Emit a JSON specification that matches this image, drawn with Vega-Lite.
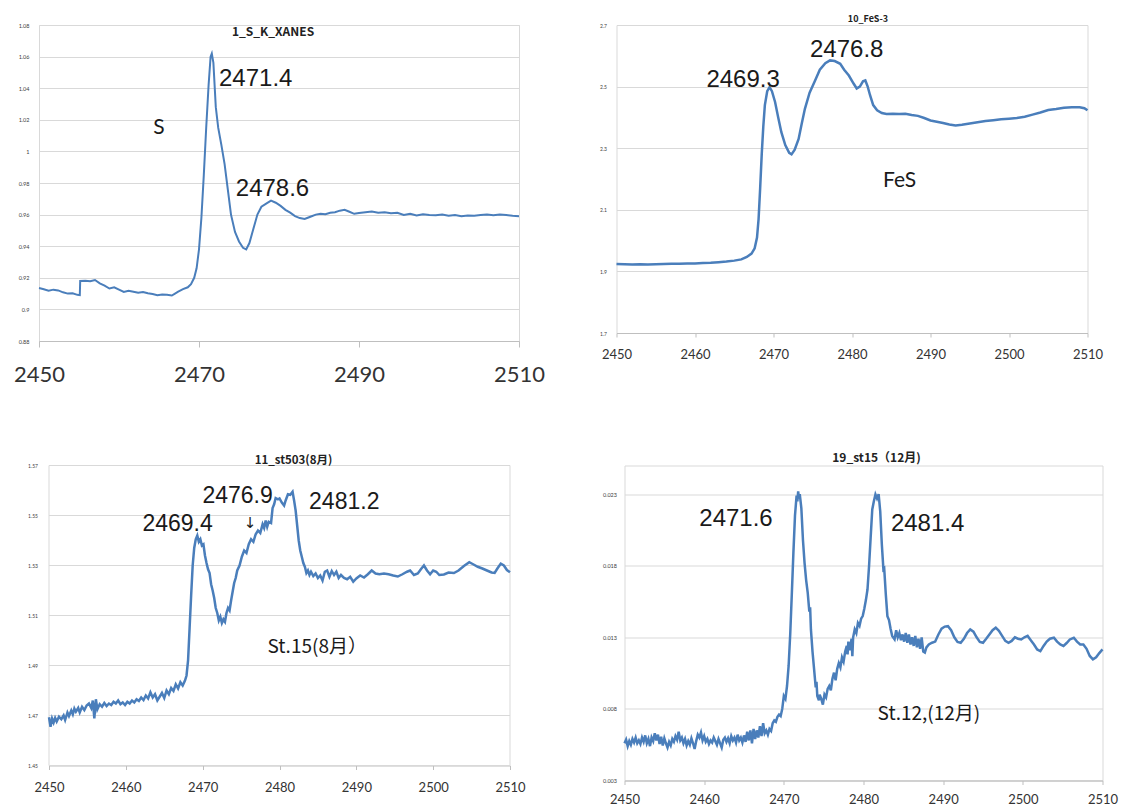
{
  "$schema": "https://vega.github.io/schema/vega-lite/v6.json",
  "background": "white",
  "padding": {"left": 12, "top": 14, "right": 5, "bottom": 0},
  "config": {
    "font": "Lato",
    "view": {"stroke": "#d9d9d9", "strokeWidth": 1},
    "axis": {"gridColor": "#d9d9d9", "gridWidth": 1, "domainColor": "#bfbfbf", "tickColor": "#bfbfbf", "labelColor": "#404040", "labelFont": "Lato", "tickCount": 20},
    "axisY": {"domain": false, "ticks": false, "labelOverlap": false},
    "axisX": {"format": "d", "labelOverlap": false},
    "title": {"font": "Noto Sans CJK JP", "fontWeight": "bold", "fontSize": 10, "color": "#222222", "frame": "group", "anchor": "middle"},
    "text": {"font": "Liberation Sans", "color": "#1a1a1a"}
  },
  "datasets": {
    "s": [
      {"energy": 2450.0, "absorbance": 0.9135}, {"energy": 2450.6, "absorbance": 0.9128}, {"energy": 2451.2, "absorbance": 0.9118}, {"energy": 2451.8, "absorbance": 0.9125}, {"energy": 2452.4, "absorbance": 0.9120}, {"energy": 2453.0, "absorbance": 0.9108}, {"energy": 2453.6, "absorbance": 0.9100}, {"energy": 2454.2, "absorbance": 0.9102}, {"energy": 2454.8, "absorbance": 0.9092}, {"energy": 2455.1, "absorbance": 0.9090}, {"energy": 2455.15, "absorbance": 0.9180}, {"energy": 2455.8, "absorbance": 0.9182}, {"energy": 2456.4, "absorbance": 0.9178}, {"energy": 2457.0, "absorbance": 0.9186}, {"energy": 2457.6, "absorbance": 0.9165}, {"energy": 2458.2, "absorbance": 0.9150}, {"energy": 2458.8, "absorbance": 0.9132}, {"energy": 2459.4, "absorbance": 0.9140}, {"energy": 2460.0, "absorbance": 0.9125}, {"energy": 2460.6, "absorbance": 0.9110}, {"energy": 2461.2, "absorbance": 0.9118}, {"energy": 2461.8, "absorbance": 0.9112}, {"energy": 2462.4, "absorbance": 0.9105}, {"energy": 2463.0, "absorbance": 0.9110}, {"energy": 2463.6, "absorbance": 0.9102}, {"energy": 2464.2, "absorbance": 0.9098}, {"energy": 2464.8, "absorbance": 0.9090}, {"energy": 2465.4, "absorbance": 0.9095}, {"energy": 2466.0, "absorbance": 0.9092}, {"energy": 2466.6, "absorbance": 0.9088}, {"energy": 2467.0, "absorbance": 0.9100}, {"energy": 2467.4, "absorbance": 0.9112}, {"energy": 2468.0, "absorbance": 0.9128}, {"energy": 2468.6, "absorbance": 0.9140}, {"energy": 2469.0, "absorbance": 0.9160}, {"energy": 2469.4, "absorbance": 0.9200}, {"energy": 2469.7, "absorbance": 0.9260}, {"energy": 2470.0, "absorbance": 0.9380}, {"energy": 2470.3, "absorbance": 0.9580}, {"energy": 2470.6, "absorbance": 0.9850}, {"energy": 2470.9, "absorbance": 1.0150}, {"energy": 2471.2, "absorbance": 1.0420}, {"energy": 2471.45, "absorbance": 1.0600}, {"energy": 2471.6, "absorbance": 1.0620}, {"energy": 2471.8, "absorbance": 1.0560}, {"energy": 2472.1, "absorbance": 1.0280}, {"energy": 2472.4, "absorbance": 1.0150}, {"energy": 2472.8, "absorbance": 1.0040}, {"energy": 2473.2, "absorbance": 0.9920}, {"energy": 2473.6, "absorbance": 0.9760}, {"energy": 2474.0, "absorbance": 0.9600}, {"energy": 2474.5, "absorbance": 0.9490}, {"energy": 2475.0, "absorbance": 0.9430}, {"energy": 2475.5, "absorbance": 0.9390}, {"energy": 2475.9, "absorbance": 0.9380}, {"energy": 2476.3, "absorbance": 0.9420}, {"energy": 2476.8, "absorbance": 0.9510}, {"energy": 2477.3, "absorbance": 0.9600}, {"energy": 2477.8, "absorbance": 0.9650}, {"energy": 2478.4, "absorbance": 0.9670}, {"energy": 2479.0, "absorbance": 0.9688}, {"energy": 2479.6, "absorbance": 0.9675}, {"energy": 2480.2, "absorbance": 0.9655}, {"energy": 2480.8, "absorbance": 0.9630}, {"energy": 2481.4, "absorbance": 0.9612}, {"energy": 2482.0, "absorbance": 0.9590}, {"energy": 2482.6, "absorbance": 0.9578}, {"energy": 2483.2, "absorbance": 0.9572}, {"energy": 2483.6, "absorbance": 0.9580}, {"energy": 2484.0, "absorbance": 0.9588}, {"energy": 2484.6, "absorbance": 0.9600}, {"energy": 2485.2, "absorbance": 0.9605}, {"energy": 2485.8, "absorbance": 0.9602}, {"energy": 2486.4, "absorbance": 0.9612}, {"energy": 2487.0, "absorbance": 0.9615}, {"energy": 2487.6, "absorbance": 0.9625}, {"energy": 2488.2, "absorbance": 0.9630}, {"energy": 2488.8, "absorbance": 0.9618}, {"energy": 2489.4, "absorbance": 0.9605}, {"energy": 2490.0, "absorbance": 0.9610}, {"energy": 2490.8, "absorbance": 0.9615}, {"energy": 2491.6, "absorbance": 0.9620}, {"energy": 2492.4, "absorbance": 0.9612}, {"energy": 2493.2, "absorbance": 0.9615}, {"energy": 2494.0, "absorbance": 0.9608}, {"energy": 2494.8, "absorbance": 0.9612}, {"energy": 2495.6, "absorbance": 0.9598}, {"energy": 2496.4, "absorbance": 0.9605}, {"energy": 2497.2, "absorbance": 0.9595}, {"energy": 2498.0, "absorbance": 0.9602}, {"energy": 2498.8, "absorbance": 0.9598}, {"energy": 2499.6, "absorbance": 0.9596}, {"energy": 2500.4, "absorbance": 0.9600}, {"energy": 2501.2, "absorbance": 0.9593}, {"energy": 2502.0, "absorbance": 0.9597}, {"energy": 2502.8, "absorbance": 0.9590}, {"energy": 2503.6, "absorbance": 0.9595}, {"energy": 2504.4, "absorbance": 0.9592}, {"energy": 2505.2, "absorbance": 0.9598}, {"energy": 2506.0, "absorbance": 0.9600}, {"energy": 2506.8, "absorbance": 0.9596}, {"energy": 2507.6, "absorbance": 0.9600}, {"energy": 2508.4, "absorbance": 0.9598}, {"energy": 2509.2, "absorbance": 0.9592}, {"energy": 2510.0, "absorbance": 0.9590}
    ],
    "fes": [
      {"energy": 2450.0, "absorbance": 1.924}, {"energy": 2451.0, "absorbance": 1.923}, {"energy": 2452.0, "absorbance": 1.922}, {"energy": 2453.0, "absorbance": 1.923}, {"energy": 2454.0, "absorbance": 1.922}, {"energy": 2455.0, "absorbance": 1.923}, {"energy": 2456.0, "absorbance": 1.924}, {"energy": 2457.0, "absorbance": 1.925}, {"energy": 2458.0, "absorbance": 1.925}, {"energy": 2459.0, "absorbance": 1.926}, {"energy": 2460.0, "absorbance": 1.926}, {"energy": 2461.0, "absorbance": 1.927}, {"energy": 2462.0, "absorbance": 1.928}, {"energy": 2463.0, "absorbance": 1.930}, {"energy": 2464.0, "absorbance": 1.932}, {"energy": 2465.0, "absorbance": 1.935}, {"energy": 2465.9, "absorbance": 1.939}, {"energy": 2466.6, "absorbance": 1.947}, {"energy": 2467.2, "absorbance": 1.958}, {"energy": 2467.6, "absorbance": 1.975}, {"energy": 2467.9, "absorbance": 2.010}, {"energy": 2468.1, "absorbance": 2.070}, {"energy": 2468.3, "absorbance": 2.170}, {"energy": 2468.5, "absorbance": 2.280}, {"energy": 2468.7, "absorbance": 2.370}, {"energy": 2468.9, "absorbance": 2.440}, {"energy": 2469.2, "absorbance": 2.485}, {"energy": 2469.5, "absorbance": 2.498}, {"energy": 2469.8, "absorbance": 2.485}, {"energy": 2470.2, "absorbance": 2.450}, {"energy": 2470.6, "absorbance": 2.400}, {"energy": 2471.0, "absorbance": 2.352}, {"energy": 2471.5, "absorbance": 2.310}, {"energy": 2472.0, "absorbance": 2.285}, {"energy": 2472.3, "absorbance": 2.280}, {"energy": 2472.7, "absorbance": 2.295}, {"energy": 2473.2, "absorbance": 2.330}, {"energy": 2473.6, "absorbance": 2.380}, {"energy": 2474.0, "absorbance": 2.428}, {"energy": 2474.6, "absorbance": 2.480}, {"energy": 2475.3, "absorbance": 2.520}, {"energy": 2475.9, "absorbance": 2.555}, {"energy": 2476.6, "absorbance": 2.576}, {"energy": 2477.2, "absorbance": 2.585}, {"energy": 2477.8, "absorbance": 2.583}, {"energy": 2478.5, "absorbance": 2.574}, {"energy": 2479.0, "absorbance": 2.555}, {"energy": 2479.6, "absorbance": 2.536}, {"energy": 2480.2, "absorbance": 2.510}, {"energy": 2480.6, "absorbance": 2.494}, {"energy": 2481.0, "absorbance": 2.500}, {"energy": 2481.4, "absorbance": 2.517}, {"energy": 2481.7, "absorbance": 2.520}, {"energy": 2482.0, "absorbance": 2.500}, {"energy": 2482.3, "absorbance": 2.472}, {"energy": 2482.7, "absorbance": 2.440}, {"energy": 2483.2, "absorbance": 2.423}, {"energy": 2483.8, "absorbance": 2.414}, {"energy": 2484.4, "absorbance": 2.411}, {"energy": 2485.2, "absorbance": 2.412}, {"energy": 2486.0, "absorbance": 2.411}, {"energy": 2486.8, "absorbance": 2.412}, {"energy": 2487.6, "absorbance": 2.408}, {"energy": 2488.4, "absorbance": 2.405}, {"energy": 2489.2, "absorbance": 2.398}, {"energy": 2490.0, "absorbance": 2.390}, {"energy": 2490.8, "absorbance": 2.386}, {"energy": 2491.6, "absorbance": 2.382}, {"energy": 2492.4, "absorbance": 2.377}, {"energy": 2493.2, "absorbance": 2.374}, {"energy": 2494.0, "absorbance": 2.376}, {"energy": 2495.0, "absorbance": 2.380}, {"energy": 2496.0, "absorbance": 2.384}, {"energy": 2497.0, "absorbance": 2.388}, {"energy": 2498.0, "absorbance": 2.391}, {"energy": 2499.0, "absorbance": 2.394}, {"energy": 2500.0, "absorbance": 2.396}, {"energy": 2501.0, "absorbance": 2.398}, {"energy": 2502.0, "absorbance": 2.402}, {"energy": 2503.0, "absorbance": 2.409}, {"energy": 2504.0, "absorbance": 2.416}, {"energy": 2505.0, "absorbance": 2.424}, {"energy": 2506.0, "absorbance": 2.427}, {"energy": 2507.0, "absorbance": 2.431}, {"energy": 2508.0, "absorbance": 2.433}, {"energy": 2509.0, "absorbance": 2.433}, {"energy": 2509.6, "absorbance": 2.430}, {"energy": 2510.0, "absorbance": 2.423}
    ],
    "st503": [
      {"energy": 2450.0, "absorbance": 1.4693}, {"energy": 2450.2, "absorbance": 1.4655}, {"energy": 2450.4, "absorbance": 1.4688}, {"energy": 2450.6, "absorbance": 1.4672}, {"energy": 2450.8, "absorbance": 1.4690}, {"energy": 2451.0, "absorbance": 1.4676}, {"energy": 2451.3, "absorbance": 1.4695}, {"energy": 2451.6, "absorbance": 1.4685}, {"energy": 2451.9, "absorbance": 1.4700}, {"energy": 2452.1, "absorbance": 1.4682}, {"energy": 2452.4, "absorbance": 1.4712}, {"energy": 2452.6, "absorbance": 1.4698}, {"energy": 2452.9, "absorbance": 1.4720}, {"energy": 2453.1, "absorbance": 1.4705}, {"energy": 2453.3, "absorbance": 1.4728}, {"energy": 2453.5, "absorbance": 1.4715}, {"energy": 2453.8, "absorbance": 1.4730}, {"energy": 2454.0, "absorbance": 1.4712}, {"energy": 2454.3, "absorbance": 1.4735}, {"energy": 2454.6, "absorbance": 1.4722}, {"energy": 2454.9, "absorbance": 1.4740}, {"energy": 2455.2, "absorbance": 1.4748}, {"energy": 2455.5, "absorbance": 1.4730}, {"energy": 2455.7, "absorbance": 1.4760}, {"energy": 2455.9, "absorbance": 1.4688}, {"energy": 2456.1, "absorbance": 1.4765}, {"energy": 2456.3, "absorbance": 1.4725}, {"energy": 2456.6, "absorbance": 1.4745}, {"energy": 2456.9, "absorbance": 1.4735}, {"energy": 2457.2, "absorbance": 1.4750}, {"energy": 2457.5, "absorbance": 1.4738}, {"energy": 2457.8, "absorbance": 1.4748}, {"energy": 2458.1, "absorbance": 1.4742}, {"energy": 2458.4, "absorbance": 1.4755}, {"energy": 2458.7, "absorbance": 1.4748}, {"energy": 2459.0, "absorbance": 1.4760}, {"energy": 2459.3, "absorbance": 1.4745}, {"energy": 2459.6, "absorbance": 1.4752}, {"energy": 2459.9, "absorbance": 1.4742}, {"energy": 2460.2, "absorbance": 1.4755}, {"energy": 2460.5, "absorbance": 1.4748}, {"energy": 2460.8, "absorbance": 1.4760}, {"energy": 2461.1, "absorbance": 1.4752}, {"energy": 2461.4, "absorbance": 1.4765}, {"energy": 2461.7, "absorbance": 1.4758}, {"energy": 2462.0, "absorbance": 1.4772}, {"energy": 2462.3, "absorbance": 1.4762}, {"energy": 2462.6, "absorbance": 1.4780}, {"energy": 2462.9, "absorbance": 1.4768}, {"energy": 2463.2, "absorbance": 1.4793}, {"energy": 2463.5, "absorbance": 1.4772}, {"energy": 2463.8, "absorbance": 1.4785}, {"energy": 2464.1, "absorbance": 1.4760}, {"energy": 2464.4, "absorbance": 1.4775}, {"energy": 2464.7, "absorbance": 1.4790}, {"energy": 2465.0, "absorbance": 1.4770}, {"energy": 2465.3, "absorbance": 1.4800}, {"energy": 2465.6, "absorbance": 1.4785}, {"energy": 2465.9, "absorbance": 1.4810}, {"energy": 2466.2, "absorbance": 1.4798}, {"energy": 2466.5, "absorbance": 1.4825}, {"energy": 2466.8, "absorbance": 1.4808}, {"energy": 2467.1, "absorbance": 1.4833}, {"energy": 2467.4, "absorbance": 1.4820}, {"energy": 2467.7, "absorbance": 1.4840}, {"energy": 2467.9, "absorbance": 1.4860}, {"energy": 2468.1, "absorbance": 1.4920}, {"energy": 2468.3, "absorbance": 1.5050}, {"energy": 2468.5, "absorbance": 1.5180}, {"energy": 2468.7, "absorbance": 1.5300}, {"energy": 2468.9, "absorbance": 1.5370}, {"energy": 2469.1, "absorbance": 1.5405}, {"energy": 2469.3, "absorbance": 1.5420}, {"energy": 2469.5, "absorbance": 1.5395}, {"energy": 2469.7, "absorbance": 1.5405}, {"energy": 2469.9, "absorbance": 1.5380}, {"energy": 2470.1, "absorbance": 1.5385}, {"energy": 2470.3, "absorbance": 1.5340}, {"energy": 2470.5, "absorbance": 1.5310}, {"energy": 2470.7, "absorbance": 1.5285}, {"energy": 2470.9, "absorbance": 1.5270}, {"energy": 2471.1, "absorbance": 1.5225}, {"energy": 2471.3, "absorbance": 1.5200}, {"energy": 2471.5, "absorbance": 1.5170}, {"energy": 2471.7, "absorbance": 1.5130}, {"energy": 2471.9, "absorbance": 1.5110}, {"energy": 2472.1, "absorbance": 1.5080}, {"energy": 2472.3, "absorbance": 1.5095}, {"energy": 2472.5, "absorbance": 1.5070}, {"energy": 2472.7, "absorbance": 1.5085}, {"energy": 2472.9, "absorbance": 1.5075}, {"energy": 2473.1, "absorbance": 1.5110}, {"energy": 2473.3, "absorbance": 1.5130}, {"energy": 2473.5, "absorbance": 1.5120}, {"energy": 2473.7, "absorbance": 1.5160}, {"energy": 2473.9, "absorbance": 1.5195}, {"energy": 2474.1, "absorbance": 1.5230}, {"energy": 2474.3, "absorbance": 1.5250}, {"energy": 2474.5, "absorbance": 1.5280}, {"energy": 2474.8, "absorbance": 1.5300}, {"energy": 2475.1, "absorbance": 1.5335}, {"energy": 2475.4, "absorbance": 1.5360}, {"energy": 2475.7, "absorbance": 1.5350}, {"energy": 2476.0, "absorbance": 1.5385}, {"energy": 2476.3, "absorbance": 1.5405}, {"energy": 2476.6, "absorbance": 1.5395}, {"energy": 2476.9, "absorbance": 1.5425}, {"energy": 2477.2, "absorbance": 1.5440}, {"energy": 2477.5, "absorbance": 1.5430}, {"energy": 2477.8, "absorbance": 1.5465}, {"energy": 2478.0, "absorbance": 1.5450}, {"energy": 2478.2, "absorbance": 1.5480}, {"energy": 2478.4, "absorbance": 1.5455}, {"energy": 2478.6, "absorbance": 1.5475}, {"energy": 2478.9, "absorbance": 1.5470}, {"energy": 2479.1, "absorbance": 1.5530}, {"energy": 2479.3, "absorbance": 1.5545}, {"energy": 2479.5, "absorbance": 1.5570}, {"energy": 2479.8, "absorbance": 1.5565}, {"energy": 2480.0, "absorbance": 1.5568}, {"energy": 2480.3, "absorbance": 1.5552}, {"energy": 2480.6, "absorbance": 1.5540}, {"energy": 2480.8, "absorbance": 1.5560}, {"energy": 2481.1, "absorbance": 1.5585}, {"energy": 2481.4, "absorbance": 1.5583}, {"energy": 2481.7, "absorbance": 1.5595}, {"energy": 2481.9, "absorbance": 1.5560}, {"energy": 2482.1, "absorbance": 1.5520}, {"energy": 2482.3, "absorbance": 1.5460}, {"energy": 2482.5, "absorbance": 1.5400}, {"energy": 2482.7, "absorbance": 1.5360}, {"energy": 2482.9, "absorbance": 1.5335}, {"energy": 2483.1, "absorbance": 1.5310}, {"energy": 2483.3, "absorbance": 1.5295}, {"energy": 2483.5, "absorbance": 1.5270}, {"energy": 2483.7, "absorbance": 1.5280}, {"energy": 2483.9, "absorbance": 1.5262}, {"energy": 2484.1, "absorbance": 1.5275}, {"energy": 2484.4, "absorbance": 1.5258}, {"energy": 2484.7, "absorbance": 1.5268}, {"energy": 2485.0, "absorbance": 1.5250}, {"energy": 2485.3, "absorbance": 1.5260}, {"energy": 2485.6, "absorbance": 1.5240}, {"energy": 2485.9, "absorbance": 1.5275}, {"energy": 2486.2, "absorbance": 1.5280}, {"energy": 2486.5, "absorbance": 1.5255}, {"energy": 2486.8, "absorbance": 1.5278}, {"energy": 2487.1, "absorbance": 1.5262}, {"energy": 2487.4, "absorbance": 1.5275}, {"energy": 2487.7, "absorbance": 1.5250}, {"energy": 2488.0, "absorbance": 1.5262}, {"energy": 2488.4, "absorbance": 1.5250}, {"energy": 2488.8, "absorbance": 1.5245}, {"energy": 2489.2, "absorbance": 1.5255}, {"energy": 2489.6, "absorbance": 1.5235}, {"energy": 2490.0, "absorbance": 1.5248}, {"energy": 2490.5, "absorbance": 1.5260}, {"energy": 2491.0, "absorbance": 1.5252}, {"energy": 2491.5, "absorbance": 1.5265}, {"energy": 2492.0, "absorbance": 1.5280}, {"energy": 2492.5, "absorbance": 1.5268}, {"energy": 2493.0, "absorbance": 1.5265}, {"energy": 2493.6, "absorbance": 1.5268}, {"energy": 2494.2, "absorbance": 1.5265}, {"energy": 2494.8, "absorbance": 1.5260}, {"energy": 2495.4, "absorbance": 1.5256}, {"energy": 2496.0, "absorbance": 1.5265}, {"energy": 2496.6, "absorbance": 1.5275}, {"energy": 2497.0, "absorbance": 1.5280}, {"energy": 2497.5, "absorbance": 1.5262}, {"energy": 2498.0, "absorbance": 1.5268}, {"energy": 2498.4, "absorbance": 1.5285}, {"energy": 2498.8, "absorbance": 1.5300}, {"energy": 2499.2, "absorbance": 1.5280}, {"energy": 2499.6, "absorbance": 1.5265}, {"energy": 2500.0, "absorbance": 1.5280}, {"energy": 2500.4, "absorbance": 1.5275}, {"energy": 2500.8, "absorbance": 1.5262}, {"energy": 2501.4, "absorbance": 1.5264}, {"energy": 2502.0, "absorbance": 1.5272}, {"energy": 2502.7, "absorbance": 1.5270}, {"energy": 2503.3, "absorbance": 1.5280}, {"energy": 2504.0, "absorbance": 1.5298}, {"energy": 2504.7, "absorbance": 1.5313}, {"energy": 2505.2, "absorbance": 1.5305}, {"energy": 2505.8, "absorbance": 1.5295}, {"energy": 2506.4, "absorbance": 1.5288}, {"energy": 2507.0, "absorbance": 1.5280}, {"energy": 2507.6, "absorbance": 1.5272}, {"energy": 2508.0, "absorbance": 1.5270}, {"energy": 2508.4, "absorbance": 1.5290}, {"energy": 2508.8, "absorbance": 1.5307}, {"energy": 2509.2, "absorbance": 1.5300}, {"energy": 2509.6, "absorbance": 1.5282}, {"energy": 2510.0, "absorbance": 1.5273}
    ],
    "st503grid": [
      {"level": 1.45}, {"level": 1.47}, {"level": 1.49}, {"level": 1.51}, {"level": 1.53}, {"level": 1.55}, {"level": 1.57}
    ],
    "st15": [
      {"energy": 2450.0, "absorbance": 0.00560}, {"energy": 2450.2, "absorbance": 0.00585}, {"energy": 2450.4, "absorbance": 0.00540}, {"energy": 2450.6, "absorbance": 0.00575}, {"energy": 2450.8, "absorbance": 0.00550}, {"energy": 2451.0, "absorbance": 0.00590}, {"energy": 2451.2, "absorbance": 0.00565}, {"energy": 2451.4, "absorbance": 0.00600}, {"energy": 2451.6, "absorbance": 0.00560}, {"energy": 2451.8, "absorbance": 0.00580}, {"energy": 2452.0, "absorbance": 0.00555}, {"energy": 2452.2, "absorbance": 0.00600}, {"energy": 2452.4, "absorbance": 0.00570}, {"energy": 2452.6, "absorbance": 0.00615}, {"energy": 2452.8, "absorbance": 0.00560}, {"energy": 2453.0, "absorbance": 0.00590}, {"energy": 2453.2, "absorbance": 0.00540}, {"energy": 2453.4, "absorbance": 0.00600}, {"energy": 2453.6, "absorbance": 0.00575}, {"energy": 2453.8, "absorbance": 0.00630}, {"energy": 2454.0, "absorbance": 0.00580}, {"energy": 2454.2, "absorbance": 0.00620}, {"energy": 2454.4, "absorbance": 0.00555}, {"energy": 2454.6, "absorbance": 0.00605}, {"energy": 2454.8, "absorbance": 0.00545}, {"energy": 2455.0, "absorbance": 0.00595}, {"energy": 2455.2, "absorbance": 0.00560}, {"energy": 2455.4, "absorbance": 0.00530}, {"energy": 2455.6, "absorbance": 0.00570}, {"energy": 2455.8, "absorbance": 0.00545}, {"energy": 2456.0, "absorbance": 0.00590}, {"energy": 2456.2, "absorbance": 0.00570}, {"energy": 2456.4, "absorbance": 0.00610}, {"energy": 2456.6, "absorbance": 0.00585}, {"energy": 2456.8, "absorbance": 0.00640}, {"energy": 2457.0, "absorbance": 0.00580}, {"energy": 2457.2, "absorbance": 0.00600}, {"energy": 2457.4, "absorbance": 0.00560}, {"energy": 2457.6, "absorbance": 0.00590}, {"energy": 2457.8, "absorbance": 0.00545}, {"energy": 2458.0, "absorbance": 0.00575}, {"energy": 2458.2, "absorbance": 0.00550}, {"energy": 2458.4, "absorbance": 0.00595}, {"energy": 2458.6, "absorbance": 0.00560}, {"energy": 2458.8, "absorbance": 0.00520}, {"energy": 2459.0, "absorbance": 0.00575}, {"energy": 2459.2, "absorbance": 0.00620}, {"energy": 2459.4, "absorbance": 0.00600}, {"energy": 2459.6, "absorbance": 0.00635}, {"energy": 2459.8, "absorbance": 0.00580}, {"energy": 2460.0, "absorbance": 0.00610}, {"energy": 2460.2, "absorbance": 0.00570}, {"energy": 2460.4, "absorbance": 0.00590}, {"energy": 2460.6, "absorbance": 0.00555}, {"energy": 2460.8, "absorbance": 0.00580}, {"energy": 2461.0, "absorbance": 0.00565}, {"energy": 2461.2, "absorbance": 0.00600}, {"energy": 2461.4, "absorbance": 0.00575}, {"energy": 2461.6, "absorbance": 0.00550}, {"energy": 2461.8, "absorbance": 0.00590}, {"energy": 2462.0, "absorbance": 0.00560}, {"energy": 2462.2, "absorbance": 0.00530}, {"energy": 2462.4, "absorbance": 0.00585}, {"energy": 2462.6, "absorbance": 0.00600}, {"energy": 2462.8, "absorbance": 0.00570}, {"energy": 2463.0, "absorbance": 0.00595}, {"energy": 2463.2, "absorbance": 0.00560}, {"energy": 2463.4, "absorbance": 0.00610}, {"energy": 2463.6, "absorbance": 0.00580}, {"energy": 2463.8, "absorbance": 0.00600}, {"energy": 2464.0, "absorbance": 0.00565}, {"energy": 2464.2, "absorbance": 0.00620}, {"energy": 2464.4, "absorbance": 0.00580}, {"energy": 2464.6, "absorbance": 0.00600}, {"energy": 2464.8, "absorbance": 0.00565}, {"energy": 2465.0, "absorbance": 0.00615}, {"energy": 2465.2, "absorbance": 0.00570}, {"energy": 2465.4, "absorbance": 0.00640}, {"energy": 2465.6, "absorbance": 0.00580}, {"energy": 2465.8, "absorbance": 0.00650}, {"energy": 2466.0, "absorbance": 0.00560}, {"energy": 2466.2, "absorbance": 0.00660}, {"energy": 2466.4, "absorbance": 0.00590}, {"energy": 2466.6, "absorbance": 0.00650}, {"energy": 2466.8, "absorbance": 0.00600}, {"energy": 2467.0, "absorbance": 0.00680}, {"energy": 2467.2, "absorbance": 0.00610}, {"energy": 2467.4, "absorbance": 0.00700}, {"energy": 2467.6, "absorbance": 0.00630}, {"energy": 2467.8, "absorbance": 0.00650}, {"energy": 2468.0, "absorbance": 0.00620}, {"energy": 2468.2, "absorbance": 0.00660}, {"energy": 2468.4, "absorbance": 0.00646}, {"energy": 2468.6, "absorbance": 0.00700}, {"energy": 2468.8, "absorbance": 0.00720}, {"energy": 2469.0, "absorbance": 0.00710}, {"energy": 2469.2, "absorbance": 0.00745}, {"energy": 2469.4, "absorbance": 0.00760}, {"energy": 2469.6, "absorbance": 0.00750}, {"energy": 2469.8, "absorbance": 0.00800}, {"energy": 2470.0, "absorbance": 0.00890}, {"energy": 2470.2, "absorbance": 0.00870}, {"energy": 2470.4, "absorbance": 0.00960}, {"energy": 2470.6, "absorbance": 0.01100}, {"energy": 2470.8, "absorbance": 0.01320}, {"energy": 2471.0, "absorbance": 0.01600}, {"energy": 2471.2, "absorbance": 0.01890}, {"energy": 2471.4, "absorbance": 0.02150}, {"energy": 2471.6, "absorbance": 0.02290}, {"energy": 2471.7, "absorbance": 0.02250}, {"energy": 2471.8, "absorbance": 0.02320}, {"energy": 2471.9, "absorbance": 0.02270}, {"energy": 2472.0, "absorbance": 0.02300}, {"energy": 2472.2, "absorbance": 0.02200}, {"energy": 2472.4, "absorbance": 0.01980}, {"energy": 2472.6, "absorbance": 0.01820}, {"energy": 2472.8, "absorbance": 0.01700}, {"energy": 2473.0, "absorbance": 0.01611}, {"energy": 2473.2, "absorbance": 0.01480}, {"energy": 2473.3, "absorbance": 0.01510}, {"energy": 2473.4, "absorbance": 0.01355}, {"energy": 2473.6, "absorbance": 0.01200}, {"energy": 2473.8, "absorbance": 0.01076}, {"energy": 2474.0, "absorbance": 0.00950}, {"energy": 2474.1, "absorbance": 0.00990}, {"energy": 2474.2, "absorbance": 0.00890}, {"energy": 2474.4, "absorbance": 0.00860}, {"energy": 2474.5, "absorbance": 0.00900}, {"energy": 2474.7, "absorbance": 0.00870}, {"energy": 2474.9, "absorbance": 0.00830}, {"energy": 2475.1, "absorbance": 0.00900}, {"energy": 2475.3, "absorbance": 0.00880}, {"energy": 2475.5, "absorbance": 0.00940}, {"energy": 2475.7, "absorbance": 0.00960}, {"energy": 2475.9, "absorbance": 0.00930}, {"energy": 2476.1, "absorbance": 0.01010}, {"energy": 2476.3, "absorbance": 0.01053}, {"energy": 2476.5, "absorbance": 0.01000}, {"energy": 2476.7, "absorbance": 0.01080}, {"energy": 2476.9, "absorbance": 0.01120}, {"energy": 2477.1, "absorbance": 0.01090}, {"energy": 2477.3, "absorbance": 0.01160}, {"energy": 2477.5, "absorbance": 0.01130}, {"energy": 2477.7, "absorbance": 0.01200}, {"energy": 2477.9, "absorbance": 0.01240}, {"energy": 2478.0, "absorbance": 0.01180}, {"energy": 2478.1, "absorbance": 0.01270}, {"energy": 2478.3, "absorbance": 0.01210}, {"energy": 2478.5, "absorbance": 0.01290}, {"energy": 2478.6, "absorbance": 0.01169}, {"energy": 2478.7, "absorbance": 0.01300}, {"energy": 2478.9, "absorbance": 0.01355}, {"energy": 2479.1, "absorbance": 0.01330}, {"energy": 2479.3, "absorbance": 0.01400}, {"energy": 2479.5, "absorbance": 0.01380}, {"energy": 2479.7, "absorbance": 0.01430}, {"energy": 2479.9, "absorbance": 0.01448}, {"energy": 2480.1, "absorbance": 0.01500}, {"energy": 2480.3, "absorbance": 0.01560}, {"energy": 2480.5, "absorbance": 0.01634}, {"energy": 2480.7, "absorbance": 0.01800}, {"energy": 2480.9, "absorbance": 0.02000}, {"energy": 2481.1, "absorbance": 0.02193}, {"energy": 2481.3, "absorbance": 0.02250}, {"energy": 2481.5, "absorbance": 0.02298}, {"energy": 2481.7, "absorbance": 0.02270}, {"energy": 2481.9, "absorbance": 0.02300}, {"energy": 2482.1, "absorbance": 0.02180}, {"energy": 2482.3, "absorbance": 0.01950}, {"energy": 2482.5, "absorbance": 0.01774}, {"energy": 2482.6, "absorbance": 0.01780}, {"energy": 2482.8, "absorbance": 0.01600}, {"energy": 2483.0, "absorbance": 0.01448}, {"energy": 2483.2, "absorbance": 0.01420}, {"energy": 2483.4, "absorbance": 0.01360}, {"energy": 2483.6, "absorbance": 0.01310}, {"energy": 2483.9, "absorbance": 0.01286}, {"energy": 2484.1, "absorbance": 0.01350}, {"energy": 2484.3, "absorbance": 0.01300}, {"energy": 2484.5, "absorbance": 0.01330}, {"energy": 2484.7, "absorbance": 0.01280}, {"energy": 2484.9, "absorbance": 0.01320}, {"energy": 2485.1, "absorbance": 0.01270}, {"energy": 2485.3, "absorbance": 0.01330}, {"energy": 2485.5, "absorbance": 0.01262}, {"energy": 2485.7, "absorbance": 0.01320}, {"energy": 2485.9, "absorbance": 0.01250}, {"energy": 2486.1, "absorbance": 0.01300}, {"energy": 2486.3, "absorbance": 0.01240}, {"energy": 2486.5, "absorbance": 0.01310}, {"energy": 2486.7, "absorbance": 0.01230}, {"energy": 2486.9, "absorbance": 0.01290}, {"energy": 2487.1, "absorbance": 0.01220}, {"energy": 2487.3, "absorbance": 0.01300}, {"energy": 2487.5, "absorbance": 0.01200}, {"energy": 2487.7, "absorbance": 0.01193}, {"energy": 2487.9, "absorbance": 0.01230}, {"energy": 2488.2, "absorbance": 0.01250}, {"energy": 2488.6, "absorbance": 0.01262}, {"energy": 2489.0, "absorbance": 0.01270}, {"energy": 2489.4, "absorbance": 0.01320}, {"energy": 2489.8, "absorbance": 0.01360}, {"energy": 2490.2, "absorbance": 0.01375}, {"energy": 2490.6, "absorbance": 0.01378}, {"energy": 2491.0, "absorbance": 0.01350}, {"energy": 2491.4, "absorbance": 0.01300}, {"energy": 2491.8, "absorbance": 0.01268}, {"energy": 2492.2, "absorbance": 0.01262}, {"energy": 2492.6, "absorbance": 0.01290}, {"energy": 2493.0, "absorbance": 0.01330}, {"energy": 2493.4, "absorbance": 0.01355}, {"energy": 2493.8, "absorbance": 0.01340}, {"energy": 2494.2, "absorbance": 0.01300}, {"energy": 2494.6, "absorbance": 0.01268}, {"energy": 2495.0, "absorbance": 0.01262}, {"energy": 2495.4, "absorbance": 0.01290}, {"energy": 2495.8, "absorbance": 0.01320}, {"energy": 2496.2, "absorbance": 0.01350}, {"energy": 2496.6, "absorbance": 0.01367}, {"energy": 2497.0, "absorbance": 0.01345}, {"energy": 2497.4, "absorbance": 0.01310}, {"energy": 2497.8, "absorbance": 0.01275}, {"energy": 2498.2, "absorbance": 0.01262}, {"energy": 2498.6, "absorbance": 0.01275}, {"energy": 2499.0, "absorbance": 0.01300}, {"energy": 2499.4, "absorbance": 0.01290}, {"energy": 2499.8, "absorbance": 0.01285}, {"energy": 2500.2, "absorbance": 0.01300}, {"energy": 2500.6, "absorbance": 0.01310}, {"energy": 2501.0, "absorbance": 0.01280}, {"energy": 2501.4, "absorbance": 0.01250}, {"energy": 2501.8, "absorbance": 0.01215}, {"energy": 2502.2, "absorbance": 0.01204}, {"energy": 2502.6, "absorbance": 0.01240}, {"energy": 2503.0, "absorbance": 0.01270}, {"energy": 2503.4, "absorbance": 0.01290}, {"energy": 2503.9, "absorbance": 0.01297}, {"energy": 2504.3, "absorbance": 0.01270}, {"energy": 2504.7, "absorbance": 0.01250}, {"energy": 2505.1, "absorbance": 0.01240}, {"energy": 2505.5, "absorbance": 0.01260}, {"energy": 2505.9, "absorbance": 0.01285}, {"energy": 2506.4, "absorbance": 0.01297}, {"energy": 2506.8, "absorbance": 0.01270}, {"energy": 2507.2, "absorbance": 0.01250}, {"energy": 2507.6, "absorbance": 0.01250}, {"energy": 2508.0, "absorbance": 0.01220}, {"energy": 2508.4, "absorbance": 0.01170}, {"energy": 2508.8, "absorbance": 0.01146}, {"energy": 2509.2, "absorbance": 0.01160}, {"energy": 2509.6, "absorbance": 0.01190}, {"energy": 2510.0, "absorbance": 0.01216}
    ]
  },
  "columns": 1,
  "spacing": 64.5,
  "concat": [
    {
      "bounds": "flush",
      "spacing": 97.5,
      "hconcat": [
        {
          "width": 480,
          "height": 316,
          "title": {"text": "1_S_K_XANES", "offset": -16, "dx": -6, "fontSize": 12},
          "layer": [
            {
              "data": {"name": "s"},
              "mark": {"type": "line", "color": "#4a7ebb", "strokeWidth": 2},
              "encoding": {
                "x": {"field": "energy", "type": "quantitative", "title": null, "scale": {"domain": [2450, 2510], "nice": false, "zero": false},
                      "axis": {"values": [2450, 2470, 2490, 2510], "labelFontSize": 22, "labelColor": "#333333", "tickSize": 6, "labelPadding": 17, "grid": false, "labelFlush": false}},
                "y": {"field": "absorbance", "type": "quantitative", "title": null, "scale": {"domain": [0.88, 1.08], "nice": false, "zero": false},
                      "axis": {"values": [0.88, 0.9, 0.92, 0.94, 0.96, 0.98, 1, 1.02, 1.04, 1.06, 1.08], "tickCount": 20, "format": ".2~f", "labelFontSize": 5.5, "labelPadding": 10}}
              }
            },
            {"data": {"values": [{}]}, "mark": {"type": "text", "text": "2471.4", "fontSize": 24, "align": "left", "baseline": "middle"},
             "encoding": {"x": {"datum": 2472.5, "type": "quantitative"}, "y": {"datum": 1.0458, "type": "quantitative"}}},
            {"data": {"values": [{}]}, "mark": {"type": "text", "text": "2478.6", "fontSize": 24, "align": "left", "baseline": "middle"},
             "encoding": {"x": {"datum": 2474.6, "type": "quantitative"}, "y": {"datum": 0.9762, "type": "quantitative"}}},
            {"data": {"values": [{}]}, "mark": {"type": "text", "text": "S", "font": "Lato", "fontSize": 21, "align": "center", "baseline": "middle"},
             "encoding": {"x": {"datum": 2465.0, "type": "quantitative"}, "y": {"datum": 1.0148, "type": "quantitative"}}}
          ]
        },
        {
          "width": 471,
          "height": 308,
          "title": {"text": "10_FeS-3", "offset": -1, "dx": 16, "fontSize": 9},
          "layer": [
            {
              "data": {"name": "fes"},
              "mark": {"type": "line", "color": "#4a7ebb", "strokeWidth": 2.5},
              "encoding": {
                "x": {"field": "energy", "type": "quantitative", "title": null, "scale": {"domain": [2450, 2510], "nice": false, "zero": false},
                      "axis": {"values": [2450, 2460, 2470, 2480, 2490, 2500, 2510], "labelFontSize": 13, "labelColor": "#333333", "tickSize": 4, "labelPadding": 11, "grid": false, "labelFlush": false}},
                "y": {"field": "absorbance", "type": "quantitative", "title": null, "scale": {"domain": [1.7, 2.7], "nice": false, "zero": false},
                      "axis": {"values": [1.7, 1.9, 2.1, 2.3, 2.5, 2.7], "tickCount": 20, "format": ".1f", "labelFontSize": 5, "labelPadding": 10}}
              }
            },
            {"data": {"values": [{}]}, "mark": {"type": "text", "text": "2469.3", "fontSize": 24, "align": "left", "baseline": "middle"},
             "encoding": {"x": {"datum": 2461.45, "type": "quantitative"}, "y": {"datum": 2.521, "type": "quantitative"}}},
            {"data": {"values": [{}]}, "mark": {"type": "text", "text": "2476.8", "fontSize": 24, "align": "left", "baseline": "middle"},
             "encoding": {"x": {"datum": 2474.65, "type": "quantitative"}, "y": {"datum": 2.618, "type": "quantitative"}}},
            {"data": {"values": [{}]}, "mark": {"type": "text", "text": "FeS", "font": "Lato", "fontSize": 21, "align": "center", "baseline": "middle"},
             "encoding": {"x": {"datum": 2486.06, "type": "quantitative"}, "y": {"datum": 2.195, "type": "quantitative"}}}
          ]
        }
      ]
    },
    {
      "bounds": "flush",
      "spacing": 114.5,
      "hconcat": [
        {
          "width": 471,
          "height": 300,
          "view": {"stroke": null},
          "title": {"text": "11_st503(8月)", "offset": -3, "dx": 19, "fontSize": 11.5},
          "layer": [
            {"data": {"name": "st503grid"}, "mark": {"type": "rule", "color": "#d9d9d9", "strokeWidth": 1},
             "encoding": {"y": {"field": "level", "type": "quantitative"}, "x": {"datum": 2450, "type": "quantitative"}, "x2": {"datum": 2510}}},
            {"data": {"values": [{}]}, "mark": {"type": "rule", "color": "#d9d9d9", "strokeWidth": 1},
             "encoding": {"x": {"datum": 2450, "type": "quantitative"}, "y": {"datum": 1.45, "type": "quantitative"}, "y2": {"datum": 1.57}}},
            {"data": {"values": [{}]}, "mark": {"type": "rule", "color": "#d9d9d9", "strokeWidth": 1},
             "encoding": {"x": {"datum": 2510, "type": "quantitative"}, "y": {"datum": 1.45, "type": "quantitative"}, "y2": {"datum": 1.57}}},
            {
              "data": {"name": "st503"},
              "mark": {"type": "line", "color": "#4a7ebb", "strokeWidth": 2.5},
              "encoding": {
                "x": {"field": "energy", "type": "quantitative", "title": null, "scale": {"domain": [2450, 2510], "range": [10, 471], "nice": false, "zero": false},
                      "axis": {"values": [2450, 2460, 2470, 2480, 2490, 2500, 2510], "labelFontSize": 13, "labelColor": "#333333", "tickSize": 4, "labelPadding": 12, "grid": false, "labelFlush": false}},
                "y": {"field": "absorbance", "type": "quantitative", "title": null, "scale": {"domain": [1.45, 1.57], "nice": false, "zero": false},
                      "axis": {"values": [1.45, 1.47, 1.49, 1.51, 1.53, 1.55, 1.57], "tickCount": 20, "format": ".2f", "labelFontSize": 5, "labelPadding": 1.5, "grid": false}}
              }
            },
            {"data": {"values": [{}]}, "mark": {"type": "text", "text": "2469.4", "fontSize": 23, "align": "left", "baseline": "middle"},
             "encoding": {"x": {"datum": 2462.16, "type": "quantitative"}, "y": {"datum": 1.5467, "type": "quantitative"}}},
            {"data": {"values": [{}]}, "mark": {"type": "text", "text": "2476.9", "fontSize": 23, "align": "left", "baseline": "middle"},
             "encoding": {"x": {"datum": 2469.97, "type": "quantitative"}, "y": {"datum": 1.558, "type": "quantitative"}}},
            {"data": {"values": [{}]}, "mark": {"type": "text", "text": "2481.2", "fontSize": 23, "align": "left", "baseline": "middle"},
             "encoding": {"x": {"datum": 2483.85, "type": "quantitative"}, "y": {"datum": 1.5553, "type": "quantitative"}}},
            {"data": {"values": [{}]}, "mark": {"type": "text", "text": "↓", "font": "DejaVu Sans", "fontSize": 15, "align": "center", "baseline": "middle"},
             "encoding": {"x": {"datum": 2476.17, "type": "quantitative"}, "y": {"datum": 1.5472, "type": "quantitative"}}},
            {"data": {"values": [{}]}, "mark": {"type": "text", "text": "St.15(8月）", "font": "Noto Sans CJK JP", "fontSize": 19, "align": "left", "baseline": "middle"},
             "encoding": {"x": {"datum": 2478.44, "type": "quantitative"}, "y": {"datum": 1.4973, "type": "quantitative"}}}
          ]
        },
        {
          "width": 478,
          "height": 315,
          "title": {"text": "19_st15（12月)", "offset": 1, "dx": 13, "fontSize": 12},
          "layer": [
            {
              "data": {"name": "st15"},
              "mark": {"type": "line", "color": "#4a7ebb", "strokeWidth": 2.5},
              "encoding": {
                "x": {"field": "energy", "type": "quantitative", "title": null, "scale": {"domain": [2450, 2510], "nice": false, "zero": false},
                      "axis": {"values": [2450, 2460, 2470, 2480, 2490, 2500, 2510], "labelFontSize": 13, "labelColor": "#333333", "tickSize": 4, "labelPadding": 9, "grid": false, "labelFlush": false}},
                "y": {"field": "absorbance", "type": "quantitative", "title": null, "scale": {"domain": [0.003, 0.025], "nice": false, "zero": false},
                      "axis": {"values": [0.003, 0.008, 0.013, 0.018, 0.023], "tickCount": 20, "format": ".3f", "labelFontSize": 5.5, "labelPadding": 8}}
              }
            },
            {"data": {"values": [{}]}, "mark": {"type": "text", "text": "2471.6", "fontSize": 24, "align": "left", "baseline": "middle"},
             "encoding": {"x": {"datum": 2459.39, "type": "quantitative"}, "y": {"datum": 0.02123, "type": "quantitative"}}},
            {"data": {"values": [{}]}, "mark": {"type": "text", "text": "2481.4", "fontSize": 24, "align": "left", "baseline": "middle"},
             "encoding": {"x": {"datum": 2483.44, "type": "quantitative"}, "y": {"datum": 0.02088, "type": "quantitative"}}},
            {"data": {"values": [{}]}, "mark": {"type": "text", "text": "St.12,(12月)", "font": "Noto Sans CJK JP", "fontSize": 19, "align": "left", "baseline": "middle"},
             "encoding": {"x": {"datum": 2481.77, "type": "quantitative"}, "y": {"datum": 0.00762, "type": "quantitative"}}}
          ]
        }
      ]
    }
  ]
}
